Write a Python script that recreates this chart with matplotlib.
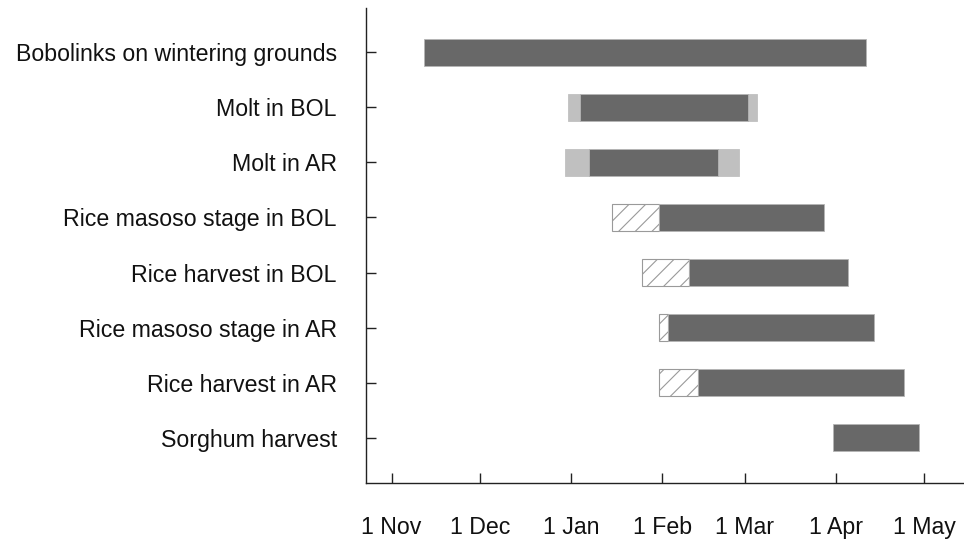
import matplotlib
matplotlib.use("Agg")
import matplotlib.pyplot as plt
import matplotlib.dates as mdates
import pandas as pd

# ---- data ----
categories = [
    "Bobolinks on wintering grounds",
    "Molt in BOL",
    "Molt in AR",
    "Rice masoso stage in BOL",
    "Rice harvest in BOL",
    "Rice masoso stage in AR",
    "Rice harvest in AR",
    "Sorghum harvest",
]
# main (dark) period
core_start = ["2001-11-12", "2002-01-04", "2002-01-07", "2002-01-31",
              "2002-02-10", "2002-02-03", "2002-02-13", "2002-03-31"]
core_end = ["2002-04-11", "2002-03-02", "2002-02-20", "2002-03-28",
            "2002-04-05", "2002-04-14", "2002-04-24", "2002-04-29"]
# extension before the main period (light = molt range, hatch = early stage)
pre_start = [None, "2001-12-31", "2001-12-30", "2002-01-15",
             "2002-01-25", "2002-01-31", "2002-01-31", None]
pre_kind = [None, "light", "light", "hatch", "hatch", "hatch", "hatch", None]
# extension after the main period (molt range)
post_end = [None, "2002-03-05", "2002-02-27", None, None, None, None, None]

tick_dates = ["2001-11-01", "2001-12-01", "2002-01-01", "2002-02-01",
              "2002-03-01", "2002-04-01", "2002-05-01"]
tick_labels = ["1 Nov", "1 Dec", "1 Jan", "1 Feb", "1 Mar", "1 Apr", "1 May"]
x_range = ["2001-10-23 08:00", "2002-05-14 10:00"]

# ---- style ----
plt.rcParams["font.family"] = ["Liberation Sans", "DejaVu Sans"]
plt.rcParams["hatch.linewidth"] = 0.8
DARK = "#686868"
LIGHT = "#c0c0c0"
EDGE = "#b5b5b5"
HATCH = "#9a9a9a"
H = 0.49

def num(s):
    return mdates.date2num(pd.Timestamp(s))

fig = plt.figure(figsize=(9.64, 5.41), dpi=100)
ax = fig.add_axes([0.3797, 0.1072, 0.6203, 0.878])

for i in range(len(categories)):
    cs, ce = num(core_start[i]), num(core_end[i])
    if pre_start[i] is not None:
        ps = num(pre_start[i])
        if pre_kind[i] == "light":
            ax.barh(i, cs - ps, left=ps, height=H, color=LIGHT,
                    edgecolor=LIGHT, linewidth=0.6)
        else:
            ax.barh(i, cs - ps, left=ps, height=H, color="white",
                    edgecolor=HATCH, hatch="//", linewidth=0.8)
    if post_end[i] is not None:
        pe = num(post_end[i])
        ax.barh(i, pe - ce, left=ce, height=H, color=LIGHT,
                edgecolor=LIGHT, linewidth=0.6)
    ax.barh(i, ce - cs, left=cs, height=H, color=DARK,
            edgecolor=EDGE, linewidth=0.6)

ax.set_xlim(num(x_range[0]), num(x_range[1]))
ax.set_ylim(len(categories) - 1 + 0.82, -0.80)

ax.set_yticks(range(len(categories)))
ax.set_yticklabels(categories)
ax.set_xticks([num(d) for d in tick_dates])
ax.set_xticklabels(tick_labels)

for side in ("top", "right"):
    ax.spines[side].set_visible(False)
for side in ("left", "bottom"):
    ax.spines[side].set_linewidth(1.0)
    ax.spines[side].set_color("#222222")

ax.tick_params(axis="y", direction="in", length=7, width=1.0,
               color="#222222", pad=21, labelsize=16.7, labelcolor="#111111")
ax.tick_params(axis="x", direction="in", length=7, width=1.0,
               color="#222222", pad=24, labelsize=16.7, labelcolor="#111111")

fig.savefig("out.png", dpi=100)
